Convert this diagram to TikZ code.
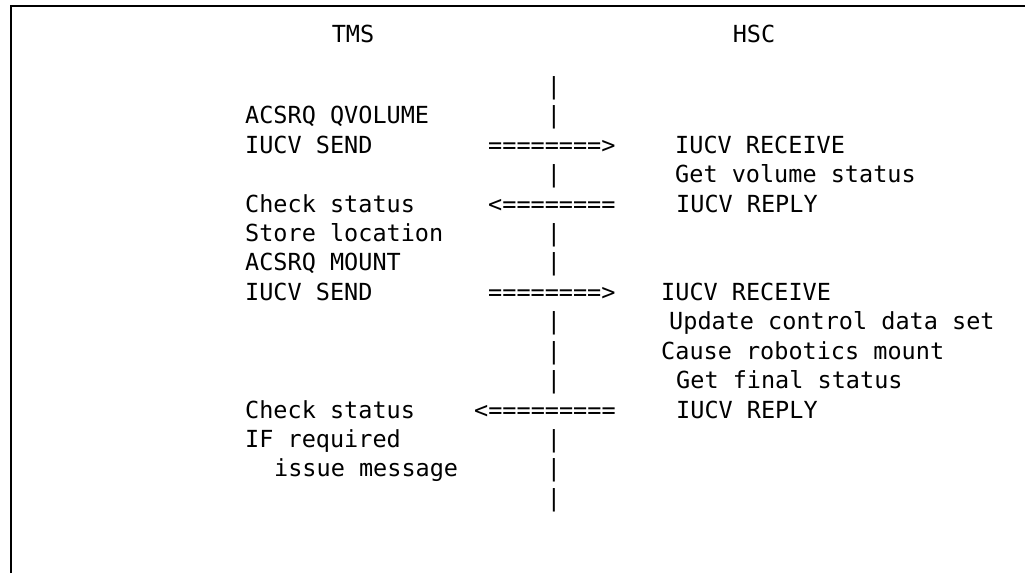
\documentclass[tikz,border=0pt]{standalone}
\usepackage{fontspec}
\setmonofont{DejaVu Sans Mono}

\begin{document}
\begin{tikzpicture}[x=1pt, y=-1pt]
            \tikzstyle{txt}=[anchor=base west,inner sep=0pt,font=\ttfamily\fontsize{23.5}{28}\selectfont]
            \tikzstyle{bar}=[txt,anchor=base]
            \useasboundingbox (0,0) rectangle (1025,573);
            \draw[line width=2.3pt] (11,573) -- (11,6) -- (1025,6);

            \node[bar] (L_0) at (353,42) {TMS};
            \node[bar] (R_0) at (754,42) {HSC};

            \node[txt] (T_1) at (245,123.7) {ACSRQ QVOLUME};
            \node[txt] (T_2) at (245,153.1) {IUCV SEND};
            \node[txt] (T_3) at (245,212) {Check status};
            \node[txt] (T_4) at (245,241.4) {Store location};
            \node[txt] (T_5) at (245,270.9) {ACSRQ MOUNT};
            \node[txt] (T_6) at (245,300.3) {IUCV SEND};
            \node[txt] (T_7) at (245,418) {Check status};
            \node[txt] (T_8) at (245,447.4) {IF required};
            \node[txt] (T_9) at (274,476.9) {issue message};

            \node[txt] (H_1) at (675,153.1) {IUCV RECEIVE};
            \node[txt] (H_2) at (675,182.6) {Get volume status};
            \node[txt] (H_3) at (676,212) {IUCV REPLY};
            \node[txt] (H_4) at (661,300.3) {IUCV RECEIVE};
            \node[txt] (H_5) at (669,329.7) {Update control data set};
            \node[txt] (H_6) at (661,359.2) {Cause robotics mount};
            \node[txt] (H_7) at (676,388.6) {Get final status};
            \node[txt] (H_8) at (676,418) {IUCV REPLY};

            \node[txt] (A_1) at (488,153.1) {========>};
            \node[txt] (A_2) at (488,212) {<========};
            \node[txt] (A_3) at (488,300.3) {========>};
            \node[txt] (A_4) at (474,418) {<=========};

            \node[bar] (B_1) at (554,94.3) {|};
            \node[bar] (B_2) at (554,123.7) {|};
            \node[bar] (B_3) at (554,182.6) {|};
            \node[bar] (B_4) at (554,241.4) {|};
            \node[bar] (B_5) at (554,270.9) {|};
            \node[bar] (B_6) at (554,329.7) {|};
            \node[bar] (B_7) at (554,359.2) {|};
            \node[bar] (B_8) at (554,388.6) {|};
            \node[bar] (B_9) at (554,447.4) {|};
            \node[bar] (B_10) at (554,476.9) {|};
            \node[bar] (B_11) at (554,506.3) {|};
        \end{tikzpicture}
\end{document}
